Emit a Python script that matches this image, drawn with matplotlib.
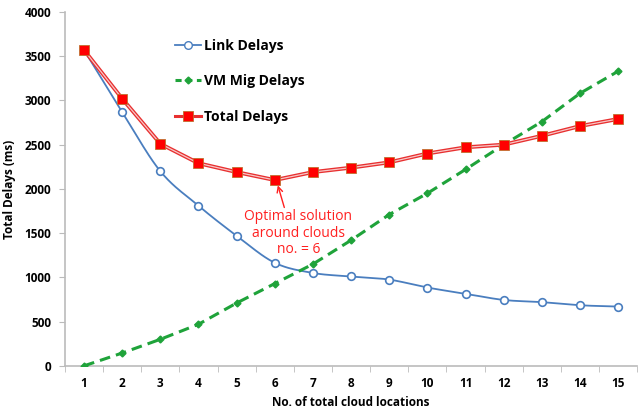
"""
Total delays vs. number of cloud locations (link / VM migration / total).
"""
import numpy as np
import matplotlib
matplotlib.use('Agg')
import matplotlib.pyplot as plt

plt.rcParams['font.family'] = ['Open Sans', 'DejaVu Sans']

locations = list(range(1, 16))
link_delays = [3570, 2870, 2200, 1810, 1470, 1165, 1050, 1010, 975, 885,
               815, 745, 720, 685, 670]
vm_mig_delays = [0, 145, 300, 470, 710, 930, 1150, 1420, 1710, 1950,
                 2220, 2500, 2760, 3080, 3330]
total_delays = [3570, 3020, 2510, 2290, 2190, 2100, 2190, 2240, 2300, 2400,
                2470, 2500, 2600, 2710, 2790]
y_ticks = [0, 500, 1000, 1500, 2000, 2500, 3000, 3500, 4000]


def smooth(x, y, n=20):
    """Catmull-Rom style smoothing, like a spreadsheet 'smoothed line'."""
    x = np.asarray(x, float)
    y = np.asarray(y, float)
    px = np.concatenate([[2 * x[0] - x[1]], x, [2 * x[-1] - x[-2]]])
    py = np.concatenate([[2 * y[0] - y[1]], y, [2 * y[-1] - y[-2]]])
    xs, ys = [], []
    t = np.linspace(0, 1, n, endpoint=False)
    for i in range(1, len(px) - 2):
        p0, p1, p2, p3 = [np.array([px[j], py[j]]) for j in (i - 1, i, i + 1, i + 2)]
        c1 = p1 + (p2 - p0) / 6
        c2 = p2 - (p3 - p1) / 6
        pts = (np.outer((1 - t) ** 3, p1) + np.outer(3 * (1 - t) ** 2 * t, c1)
               + np.outer(3 * (1 - t) * t ** 2, c2) + np.outer(t ** 3, p2))
        xs.extend(pts[:, 0])
        ys.extend(pts[:, 1])
    xs.append(x[-1])
    ys.append(y[-1])
    return np.array(xs), np.array(ys)


fig = plt.figure(figsize=(6.43, 4.12), dpi=100)
ax = fig.add_axes([0.101, 0.112, 0.89, 0.859])

blue = '#4a7ebf'
green = '#1fa33a'
red = '#ff0000'

# link delays: smoothed blue line with hollow circles
sx, sy = smooth(locations, link_delays)
ax.plot(sx, sy, color=blue, lw=1.3, zorder=3)
ax.plot(locations, link_delays, ls='none', marker='o', ms=5.5, mfc='white',
        mec=blue, mew=1.2, zorder=4)

# VM migration delays: green dashed
ax.plot(locations, vm_mig_delays, color=green, lw=2.2, ls=(0, (3.5, 2)),
        marker='D', ms=3.5, mfc=green, mec=green, zorder=3)

# total delays: red double line with square markers
ax.plot(locations, total_delays, color='#e83030', lw=2.8, zorder=3)
ax.plot(locations, total_delays, color='#f8c8c8', lw=0.9, zorder=3)
ax.plot(locations, total_delays, ls='none', marker='s', ms=6.5, mfc=red,
        mec='#c07030', mew=0.6, zorder=5)

# legend, no frame
h1, = ax.plot([], [], color=blue, lw=1.3, marker='o', ms=5.5, mfc='white', mec=blue)
h2, = ax.plot([], [], color=green, lw=2.2, ls=(0, (2, 1.5)), marker='D', ms=3.5)
h3, = ax.plot([], [], color='#e83030', lw=2.2, marker='s', ms=7, mfc=red,
              mec='#c07030', mew=0.6)
leg = ax.legend([h1, h2, h3], ['Link Delays', 'VM Mig Delays', 'Total Delays'],
                loc='upper left', bbox_to_anchor=(0.17, 0.96), frameon=False,
                prop={'weight': 'bold', 'size': 10}, handlelength=1.9,
                handletextpad=0.2, labelspacing=1.55)

ax.text(6.62, 1500, 'Optimal solution\naround clouds\nno. = 6', ha='center',
        va='center', color='#ff2020', fontsize=10, linespacing=1.15)
ax.annotate('', xy=(6.08, 2040), xytext=(6.25, 1790),
            arrowprops=dict(arrowstyle='->', color='#ff2020', lw=1,
                            shrinkA=0, shrinkB=0))

ax.set_xlim(0.5, 15.5)
ax.set_ylim(0, 4000)
ax.set_yticks(y_ticks)
ax.set_xticks(locations)
ax.set_xticks(np.arange(0.5, 16, 1), minor=True)
ax.tick_params(axis='x', which='major', length=0, pad=8)
ax.tick_params(axis='x', which='minor', length=4, color='#bbbbbb')
ax.tick_params(axis='y', length=4, color='#bbbbbb', pad=6)
for lab in ax.get_xticklabels() + ax.get_yticklabels():
    lab.set_fontweight('bold')
    lab.set_fontsize(8.5)

for side in ('top', 'right'):
    ax.spines[side].set_visible(False)
for side in ('left', 'bottom'):
    ax.spines[side].set_color('#bbbbbb')
    ax.spines[side].set_linewidth(1.2)

ax.set_ylabel('Total Delays (ms)', fontsize=8.5, fontweight='bold', labelpad=6)
ax.set_xlabel('No. of total cloud locations', fontsize=8.5, fontweight='bold',
              labelpad=4)

fig.savefig('out.png', dpi=100)
